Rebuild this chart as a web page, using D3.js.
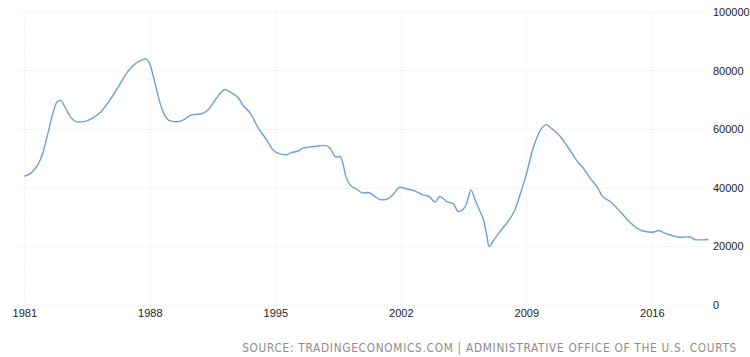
<!DOCTYPE html>
<html>
<head>
<meta charset="utf-8">
<script src="https://cdn.jsdelivr.net/npm/d3@7"></script>
<style>
  html, body { margin: 0; padding: 0; background: #fff; }
  svg { display: block; }
</style>
</head>
<body>
<svg id="chart" width="750" height="357"></svg>
<script>
const years = [1981.0,1981.39,1981.76,1982.04,1982.32,1982.60,1982.84,1983.03,1983.25,1983.62,1984.00,1984.37,1984.83,1985.29,1985.85,1986.32,1986.78,1987.25,1987.62,1987.73,1988.01,1988.29,1988.57,1988.85,1989.13,1989.50,1989.96,1990.15,1990.43,1990.89,1991.26,1991.73,1992.19,1992.57,1992.94,1993.21,1993.59,1994.05,1994.52,1994.89,1995.26,1995.63,1995.91,1996.19,1996.56,1997.12,1997.77,1998.05,1998.38,1998.61,1998.74,1998.94,1999.17,1999.54,1999.91,2000.19,2000.56,2000.93,2001.21,2001.58,2001.95,2002.33,2002.70,2003.25,2003.63,2003.90,2004.18,2004.56,2004.93,2005.21,2005.58,2005.76,2005.91,2006.14,2006.42,2006.64,2006.79,2006.92,2007.16,2007.53,2008.00,2008.37,2008.65,2009.02,2009.30,2009.58,2009.86,2010.14,2010.32,2010.60,2010.88,2011.35,2011.91,2012.18,2012.56,2013.02,2013.21,2013.68,2014.23,2014.79,2015.44,2016.00,2016.18,2016.37,2016.65,2017.12,2017.58,2018.12,2018.46,2018.78,2019.15];
const values = [43800,45000,47800,51900,58600,65500,69400,69800,67700,63800,62400,62600,63800,66000,70600,75200,79700,82600,83700,84000,82000,75700,68900,64500,62800,62500,63400,64300,64900,65200,66600,70600,73500,72300,70600,68000,65500,60300,56300,52700,51500,51200,52000,52300,53500,54000,54400,53500,50400,50600,48900,43800,40900,39400,38100,38300,36900,35800,36000,37700,40100,39500,39000,37500,36700,35000,36900,35200,34400,31800,33300,36400,39200,35800,31800,28400,23800,19800,21800,24900,28600,32400,37500,44900,51800,56900,60300,61500,60600,59200,57500,53500,48400,46600,43200,39500,37200,35200,31800,28000,25200,24700,24900,25300,24600,23600,23000,23100,22100,22100,22200];
const xTickYears = [1981, 1988, 1995, 2002, 2009, 2016];
const yTickValues = [0, 20000, 40000, 60000, 80000, 100000];
const sourceText = "SOURCE: TRADINGECONOMICS.COM | ADMINISTRATIVE OFFICE OF THE U.S. COURTS";

const svg = d3.select("#chart");
const data = years.map((y, i) => ({ year: y, value: values[i] }));

const x = d3.scaleLinear().domain(d3.extent(years)).range([24.3, 708.3]);
const y = d3.scaleLinear().domain([0, 100000]).range([304.5, 12]);

const gridLeft = 18, gridRight = 708;

// horizontal grid
svg.append("g").selectAll("line").data(yTickValues).join("line")
  .attr("x1", gridLeft).attr("x2", gridRight)
  .attr("y1", d => Math.round(y(d)) + 0.5).attr("y2", d => Math.round(y(d)) + 0.5)
  .attr("stroke", "#f1f1f1").attr("stroke-width", 1).attr("stroke-dasharray", "2,1");

// vertical grid
svg.append("g").selectAll("line").data(xTickYears).join("line")
  .attr("x1", d => Math.round(x(d)) + 0.5).attr("x2", d => Math.round(x(d)) + 0.5)
  .attr("y1", y(100000)).attr("y2", y(0))
  .attr("stroke", "#f1f1f1").attr("stroke-width", 1).attr("stroke-dasharray", "2,1");

// x axis labels
const xAxis = d3.axisBottom(x).tickValues(xTickYears).tickFormat(d3.format("d")).tickSize(0).tickPadding(0);
const gx = svg.append("g").attr("transform", "translate(0,309)").call(xAxis);
gx.select(".domain").remove();
gx.selectAll("text").attr("font-family", "'Liberation Sans', Arial, sans-serif")
  .attr("font-size", 11).attr("fill", "#222").attr("dy", "0.71em");

// y axis labels
const yAxis = d3.axisRight(y).tickValues(yTickValues).tickFormat(d3.format("d")).tickSize(0).tickPadding(0);
const gy = svg.append("g").attr("transform", "translate(713,0)").call(yAxis);
gy.select(".domain").remove();
gy.selectAll("text").attr("font-family", "'Liberation Sans', Arial, sans-serif")
  .attr("font-size", 11).attr("fill", "#222").attr("text-anchor", "start");

// line
const line = d3.line().x(d => x(d.year)).y(d => y(d.value)).curve(d3.curveMonotoneX);
svg.append("path").datum(data)
  .attr("d", line)
  .attr("fill", "none")
  .attr("stroke", "#6f9fd2")
  .attr("stroke-width", 1.4)
  .attr("stroke-linejoin", "round");

// source: fit width ~494px with natural glyphs plus letter-spacing
const targetW = 494;
const src = svg.append("text")
  .attr("x", 737).attr("y", 352)
  .attr("text-anchor", "end")
  .attr("font-family", "'Liberation Sans Narrow', 'DejaVu Sans Condensed', 'Liberation Sans', Arial, sans-serif")
  .attr("fill", "#8c8c8c")
  .text(sourceText);
let fs = 14.5;
src.attr("font-size", fs);
let w = src.node().getComputedTextLength();
while (w + 70 * 0.6 > targetW && fs > 9) {
  fs -= 0.25;
  src.attr("font-size", fs);
  w = src.node().getComputedTextLength();
}
const ls = Math.max(0, (targetW - w) / 70);
src.attr("letter-spacing", ls.toFixed(2));
</script>
</body>
</html>
